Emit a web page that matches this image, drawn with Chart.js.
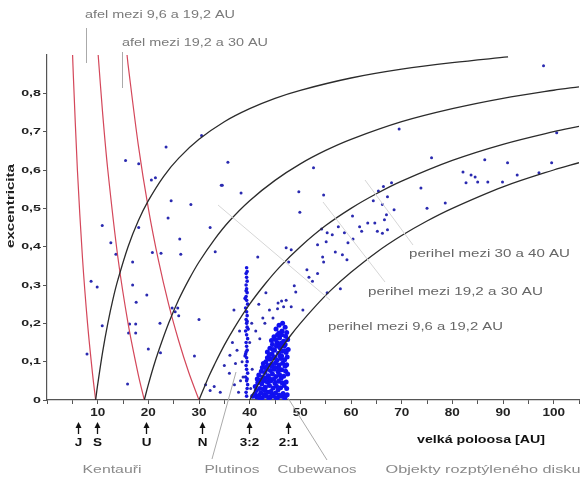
<!DOCTYPE html>
<html><head><meta charset="utf-8">
<script src="https://cdn.jsdelivr.net/npm/chart.js@4"></script>
<style>html,body{margin:0;padding:0;background:#fff}#wrap{width:583px;height:479px}</style>
</head><body><div id="wrap"><canvas id="c" width="583" height="479"></canvas></div>
<script>
// ---- data ----
const yTickValues = [0,0.1,0.2,0.3,0.4,0.5,0.6,0.7,0.8];
const yTickLabels = ['0','0,1','0,2','0,3','0,4','0,5','0,6','0,7','0,8'];
const xTickValues = [10,20,30,40,50,60,70,80,90,100];
const xTickLabels = ['10','20','30','40','50','60','70','80','90','100'];

// perihelion curves (black)
const periQ96 = [[9.6,0],[10,0.04],[11,0.127],[12,0.2],[13,0.262],[14,0.314],[16,0.4],[18,0.467],[20,0.52],[23,0.583],[26,0.631],[30,0.68],[35,0.726],[40,0.76],[45,0.787],[50,0.808],[60,0.84],[70,0.863],[80,0.88],[91,0.895]];
const periQ192 = [[19.2,0],[20,0.04],[21,0.086],[22,0.127],[24,0.2],[26,0.262],[28,0.314],[30,0.36],[33,0.418],[36,0.467],[40,0.52],[45,0.573],[50,0.616],[55,0.651],[60,0.68],[70,0.726],[80,0.76],[90,0.787],[100,0.808],[105,0.817]];
const periQ30 = [[30,0],[31,0.032],[32,0.063],[33,0.091],[35,0.143],[37,0.189],[40,0.25],[43,0.302],[46,0.348],[50,0.4],[55,0.455],[60,0.5],[65,0.538],[70,0.571],[80,0.625],[90,0.667],[100,0.7],[105,0.714]];
const periQ40 = [[40,0],[41,0.024],[42,0.048],[44,0.091],[46,0.13],[48,0.167],[50,0.2],[53,0.245],[56,0.286],[60,0.333],[65,0.385],[70,0.429],[75,0.467],[80,0.5],[90,0.556],[100,0.6],[105,0.619]];
// aphelion curves (red)
const afelQ96 = [[9.6,0],[9,0.067],[8,0.2],[7,0.371],[6,0.6],[5.2,0.846],[5.05,0.9]];
const afelQ192 = [[19.2,0],[18,0.067],[16,0.2],[14,0.371],[12,0.6],[11,0.745],[10.1,0.9]];
const afelQ30 = [[30,0],[28,0.071],[26,0.154],[24,0.25],[22,0.364],[20,0.5],[18,0.667],[16,0.875],[15.8,0.9]];

// objects [a, e]
const scatteredPts = [[15.5,0.625],[18.1,0.616],[20.6,0.574],[21.4,0.58],[23.5,0.66],[30.5,0.69],[35.7,0.62],[34.4,0.56],[38.3,0.54],[24.5,0.52],[28.4,0.51],[23.9,0.475],[32.2,0.45],[10.9,0.455],[26.2,0.42],[18.1,0.45],[12.6,0.41],[13.6,0.38],[8.7,0.31],[9.9,0.295],[16.9,0.36],[16.9,0.30],[17.6,0.255],[19.7,0.274],[10.9,0.194],[16.3,0.198],[17.5,0.198],[16.1,0.175],[17.5,0.175],[7.9,0.12],[15.9,0.042],[20.0,0.133],[22.4,0.123],[22.3,0.2],[24.7,0.24],[25.8,0.24],[25.3,0.23],[29.1,0.115],[20.8,0.385],[22.5,0.383],[26.4,0.38],[33.2,0.387],[41.6,0.373],[49.9,0.49],[47.7,0.36],[51.3,0.34],[48.8,0.298],[49.1,0.282],[47.2,0.26],[48.2,0.243],[50.5,0.235],[46.3,0.258],[46.7,0.243],[45.6,0.253],[45.5,0.238],[43.9,0.235],[44.6,0.214],[42.6,0.214],[36.9,0.235],[49.7,0.543],[54.6,0.535],[54.2,0.446],[55.3,0.436],[55.1,0.413],[56.3,0.431],[57.5,0.452],[59.4,0.41],[56.9,0.386],[58.3,0.379],[59.2,0.366],[54.4,0.373],[54.6,0.36],[61.7,0.452],[63.3,0.462],[64.7,0.462],[65.2,0.44],[66.2,0.435],[67.2,0.444],[66.6,0.47],[67.0,0.483],[66.2,0.51],[68.5,0.496],[73.8,0.553],[75.0,0.5],[78.6,0.514],[82.7,0.567],[85.0,0.569],[53.4,0.33],[51.7,0.32],[52.4,0.31],[57.9,0.29],[55.3,0.28],[98.0,0.872],[69.5,0.707],[52.6,0.606],[75.9,0.632],[86.4,0.627],[90.9,0.619],[99.6,0.619],[100.6,0.697],[82.1,0.595],[83.7,0.587],[84.5,0.582],[87.0,0.569],[89.9,0.569],[92.8,0.587],[97.1,0.593],[67.2,0.53],[64.4,0.52],[65.4,0.545],[66.4,0.557],[68.0,0.567],[60.3,0.48],[58.7,0.436],[62.1,0.44],[53.4,0.405],[60.4,0.42],[47.2,0.397],[48.2,0.392],[34.6,0.56],[30.0,0.21],[26.0,0.22],[36.1,0.117],[35.0,0.09],[36.0,0.07],[37.0,0.04],[37.8,0.02],[38.2,0.05],[38.5,0.1],[37.5,0.13],[38.0,0.18],[38.7,0.06],[40.2,0.03],[40.5,0.08],[40.0,0.15],[40.4,0.2],[31.3,0.04],[33.0,0.035],[32.2,0.025],[34.2,0.02],[36.6,0.15],[37.2,0.095],[41.2,0.18],[42.0,0.16],[43.0,0.2],[41.8,0.25],[43.2,0.28]];

const plutinoPts = [[39.4,0.01],[39.3,0.02],[39.5,0.03],[39.4,0.05],[39.2,0.06],[39.6,0.07],[39.4,0.08],[39.3,0.09],[39.5,0.1],[39.4,0.11],[39.2,0.12],[39.5,0.13],[39.4,0.14],[39.3,0.15],[39.6,0.16],[39.4,0.17],[39.2,0.18],[39.5,0.19],[39.4,0.2],[39.3,0.21],[39.5,0.22],[39.4,0.23],[39.2,0.24],[39.6,0.25],[39.4,0.26],[39.3,0.27],[39.5,0.28],[39.4,0.29],[39.3,0.3],[39.5,0.31],[39.4,0.32],[39.3,0.33],[39.4,0.345],[39.6,0.04],[39.1,0.115],[39.7,0.185],[39.1,0.265],[39.5,0.055],[39.3,0.125],[39.5,0.205],[39.3,0.285],[39.5,0.335]];

const cubewanoPts = [[40.6,0.01],[41.0,0.015],[41.4,0.008],[41.8,0.012],[42.2,0.018],[42.5,0.006],[42.9,0.014],[43.3,0.01],[43.6,0.02],[44.0,0.007],[44.4,0.015],[44.7,0.01],[45.1,0.018],[45.5,0.006],[45.8,0.013],[46.2,0.01],[46.6,0.017],[47.0,0.008],[47.4,0.014],
[41.1,0.035],[41.6,0.045],[42.0,0.03],[42.4,0.042],[42.8,0.05],[43.1,0.033],[43.5,0.046],[43.9,0.038],[44.2,0.05],[44.6,0.031],[45.0,0.044],[45.3,0.036],[45.7,0.049],[46.1,0.032],[46.4,0.045],[46.8,0.038],[47.2,0.047],
[41.8,0.065],[42.3,0.075],[42.6,0.06],[43.0,0.072],[43.4,0.08],[43.7,0.063],[44.1,0.077],[44.5,0.068],[44.8,0.08],[45.2,0.061],[45.6,0.074],[45.9,0.066],[46.3,0.079],[46.7,0.062],[47.1,0.075],[47.5,0.068],
[42.7,0.095],[43.2,0.1],[43.6,0.09],[44.0,0.106],[44.3,0.093],[44.7,0.11],[45.1,0.097],[45.4,0.104],[45.8,0.091],[46.2,0.108],[46.5,0.096],[46.9,0.105],[47.3,0.092],
[43.5,0.125],[44.0,0.135],[44.4,0.12],[44.9,0.13],[45.3,0.14],[45.7,0.122],[46.0,0.136],[46.4,0.127],[46.8,0.14],[47.2,0.124],[47.6,0.132],
[44.3,0.155],[44.8,0.165],[45.4,0.15],[45.9,0.162],[46.3,0.17],[46.7,0.153],[47.1,0.166],[47.5,0.158],
[45.2,0.185],[45.8,0.195],[46.4,0.18],[47.0,0.19],
[42.0,0.005],[43.0,0.025],[44.0,0.055],[45.0,0.085],[46.0,0.115],[47.0,0.145],[41.5,0.055],[42.5,0.085],[43.5,0.11],[44.5,0.145],[45.5,0.17],[46.5,0.2],[43.8,0.002],[45.3,0.003],[46.9,0.004],
[41.3,0.025],[42.7,0.028],[44.2,0.022],[45.6,0.027],[47.3,0.03],[42.1,0.052],[43.3,0.058],[44.8,0.055],[46.2,0.057],[43.1,0.085],[44.4,0.088],[45.7,0.083],[47.0,0.088],[43.9,0.118],[45.0,0.112],[46.3,0.115],[47.4,0.112],[44.6,0.132],[45.9,0.145],[47.0,0.128],[45.1,0.158],[46.2,0.148],[47.3,0.176],[45.8,0.175]];

const bottomMarks = [{a:6.1,t:'J'},{a:9.8,t:'S'},{a:19.6,t:'U'},{a:30.6,t:'N'},{a:39.8,t:'3:2'},{a:47.6,t:'2:1'}];

const toXY = arr => arr.map(p => ({x:p[0], y:p[1]}));

const blackLine = (d) => ({type:'line', data: toXY(d), borderColor:'#2b2b2b', borderWidth:1.3, pointRadius:0, showLine:true, tension:0.35, fill:false});
const redLine = (d) => ({type:'line', data: toXY(d), borderColor:'#d4475a', borderWidth:1.2, pointRadius:0, showLine:true, tension:0.3, fill:false});

const FONT = '"Liberation Sans", Arial';
// draw text stretched along its direction to a target width
function fitText(ctx, text, x, y, w, font, align){
  ctx.font = font;
  const m = ctx.measureText(text).width;
  const sx = w / m;
  let left = x;
  if (align === 'center') left = x - w/2;
  else if (align === 'right') left = x - w;
  ctx.save();
  ctx.translate(left, y);
  ctx.scale(sx, 1);
  ctx.textAlign = 'left'; ctx.textBaseline = 'middle';
  ctx.fillText(text, 0, 0);
  ctx.restore();
}
function stretchText(ctx, text, x, y, sx, font, align){
  ctx.font = font;
  const w = ctx.measureText(text).width * sx;
  fitText(ctx, text, x, y, w, font, align);
}

const annot = {
  id:'annot',
  afterDraw(chart){
    const ctx = chart.ctx, xs = chart.scales.x, ys = chart.scales.y;
    ctx.save();
    ctx.fillStyle = '#222';
    // tick labels
    xTickValues.forEach((v,i) => {
      stretchText(ctx, xTickLabels[i], xs.getPixelForValue(v), 413, 1.35, 'bold 10px ' + FONT, 'center');
    });
    yTickValues.forEach((v,i) => {
      stretchText(ctx, yTickLabels[i], 41, ys.getPixelForValue(v), 1.5, 'bold 9.5px ' + FONT, 'right');
    });
    // y-axis title
    ctx.save();
    ctx.translate(11, 206);
    ctx.rotate(-Math.PI/2);
    fitText(ctx, 'excentricita', 0, 0, 84, 'bold 10px ' + FONT, 'center');
    ctx.restore();
    // arrows & labels
    ctx.strokeStyle = '#111'; ctx.fillStyle = '#111'; ctx.lineWidth = 1.3;
    bottomMarks.forEach(m => {
      const px = Math.round(xs.getPixelForValue(m.a)) + 0.5;
      ctx.beginPath(); ctx.moveTo(px, 425); ctx.lineTo(px, 434); ctx.stroke();
      ctx.beginPath(); ctx.moveTo(px-3, 428); ctx.lineTo(px, 422); ctx.lineTo(px+3, 428); ctx.closePath(); ctx.fill();
      stretchText(ctx, m.t, px, 443, 1.35, 'bold 10px ' + FONT, 'center');
    });
    fitText(ctx, 'velká poloosa [AU]', 417, 440, 128, 'bold 10.5px ' + FONT, 'left');
    // gray labels
    ctx.fillStyle = '#7a7a7a';
    fitText(ctx, 'afel mezi 9,6 a 19,2 AU', 85, 15, 150, '10.5px ' + FONT, 'left');
    fitText(ctx, 'afel mezi 19,2 a 30 AU', 122, 43, 146, '10.5px ' + FONT, 'left');
    ctx.fillStyle = '#666';
    fitText(ctx, 'perihel mezi 30 a 40 AU', 409, 254, 161, '11px ' + FONT, 'left');
    fitText(ctx, 'perihel mezi 19,2 a 30 AU', 368, 292, 175, '11px ' + FONT, 'left');
    fitText(ctx, 'perihel mezi 9,6 a 19,2 AU', 328, 327, 175, '11px ' + FONT, 'left');
    ctx.fillStyle = '#8a8a8a';
    fitText(ctx, 'Kentauři', 112, 470, 59, '10.5px ' + FONT, 'center');
    fitText(ctx, 'Plutinos', 232, 470, 55, '10.5px ' + FONT, 'center');
    fitText(ctx, 'Cubewanos', 317, 470, 79, '10.5px ' + FONT, 'center');
    fitText(ctx, 'Objekty rozptýleného disku', 483, 470, 195, '10.5px ' + FONT, 'center');
    // pointer lines
    ctx.lineWidth = 1;
    ctx.strokeStyle = '#aaa';
    const seg = (x1,y1,x2,y2) => { ctx.beginPath(); ctx.moveTo(x1,y1); ctx.lineTo(x2,y2); ctx.stroke(); };
    seg(86.5,28,86.5,63);
    seg(122.5,52,122.5,88);
    seg(212,459,236,372);
    seg(327,460,288,398);
    ctx.strokeStyle = '#d6d6d6';
    seg(218,205,330,300);
    seg(323,202,385,282);
    seg(365,180,413,245);
    ctx.restore();
  }
};

new Chart(document.getElementById('c'), {
  type:'scatter',
  data:{datasets:[
    blackLine(periQ96), blackLine(periQ192), blackLine(periQ30), blackLine(periQ40),
    redLine(afelQ96), redLine(afelQ192), redLine(afelQ30),
    {data: toXY(scatteredPts), backgroundColor:'#2a2ab0', borderColor:'#2a2ab0', pointRadius:1.5, borderWidth:0},
    {data: toXY(plutinoPts), backgroundColor:'#1515e0', borderColor:'#1515e0', pointRadius:1.8, borderWidth:0},
    {data: toXY(cubewanoPts), backgroundColor:'#1010f0', borderColor:'#1010f0', pointRadius:2.5, borderWidth:0}
  ]},
  options:{
    responsive:false, animation:false, devicePixelRatio:1,
    layout:{padding:{top:55,right:0,left:0,bottom:0}},
    plugins:{legend:{display:false}, tooltip:{enabled:false}},
    scales:{
      x:{type:'linear', min:0, max:105,
        afterFit(s){ s.height = 79; },
        border:{color:'#555', width:1.2},
        grid:{drawOnChartArea:false, color:'#555', tickLength:4},
        ticks:{stepSize:5, display:false, autoSkip:false}
      },
      y:{type:'linear', min:0, max:0.9,
        afterFit(s){ s.width = 47; },
        afterBuildTicks(s){ s.ticks = yTickValues.map(v => ({value:v})); },
        border:{color:'#555', width:1.2},
        grid:{drawOnChartArea:false, color:'#555', tickLength:4},
        ticks:{display:false}
      }
    }
  },
  plugins:[annot]
});
</script>
</body></html>
